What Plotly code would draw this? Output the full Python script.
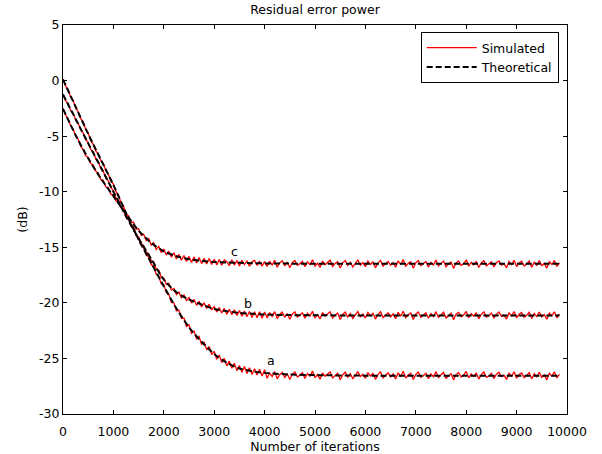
import plotly.graph_objects as go

# ---------------- data ----------------
th_iter = [0, 250, 500, 750, 1000, 1250, 1500, 1750, 2000, 2250, 2500, 2750,
           3000, 3250, 3500, 3750, 4000, 4500, 5000, 6000, 7000, 8000, 9000, 9850]

th_a = [0.1, -2.35, -4.8, -7.1, -9.4, -11.9, -14.3, -16.4, -18.5, -20.5, -22.2, -23.5,
        -24.6, -25.4, -25.9, -26.15, -26.3, -26.45, -26.5, -26.55, -26.55, -26.55, -26.55, -26.55]
th_b = [-1.25, -3.45, -5.65, -7.8, -10.0, -12.2, -14.2, -16.05, -17.9, -19.05, -19.7, -20.15,
        -20.55, -20.75, -20.9, -20.98, -21.05, -21.1, -21.12, -21.13, -21.13, -21.13, -21.13, -21.13]
th_c = [-2.55, -4.9, -7.0, -8.8, -10.4, -12.0, -13.5, -14.6, -15.37, -15.8, -16.07, -16.22,
        -16.32, -16.37, -16.4, -16.43, -16.45, -16.47, -16.48, -16.48, -16.48, -16.48, -16.48, -16.48]

sim_step = 50  # iterations between stored simulated samples

sim_a = [
    0.15, -0.48, -0.82, -1.47, -1.78, -2.44, -2.79, -3.41, -3.72, -4.38,
    -4.71, -5.39, -5.74, -6.33, -6.62, -7.19, -7.47, -8.09, -8.42, -9.06,
    -9.31, -9.98, -10.31, -10.99, -11.32, -12.01, -12.26, -12.91, -13.21, -13.92,
    -14.19, -14.83, -15.04, -15.68, -15.88, -16.55, -16.72, -17.44, -17.61, -18.31,
    -18.36, -19.08, -19.24, -19.97, -20.0, -20.71, -20.67, -21.41, -21.36, -22.12,
    -21.98, -22.74, -22.54, -23.24, -23.02, -23.76, -23.51, -24.22, -23.93, -24.66,
    -24.37, -25.07, -24.71, -25.38, -25.0, -25.67, -25.24, -25.89, -25.43, -26.1,
    -25.63, -26.24, -25.72, -26.35, -25.84, -26.44, -25.92, -26.49, -25.98, -26.58,
    -26.01,
    -26.78, -26.31, -26.62, -26.19, -26.84, -26.47, -26.25, -26.71, -26.38, -26.9,
    -26.42, -26.22, -26.66, -26.53, -26.28, -26.81, -26.36, -26.59, -26.14, -26.73,
    -26.45, -26.87, -26.3, -26.6, -26.41, -26.2, -26.76, -26.5, -26.33, -26.92,
    -26.48, -26.24, -26.69, -26.37, -26.82, -26.55, -26.18, -26.63, -26.43, -26.79,
    -26.27, -26.58, -26.35, -26.88, -26.46, -26.21, -26.74, -26.52, -26.3, -26.67,
    -26.4, -26.85, -26.29, -26.61, -26.16, -26.77, -26.49, -26.34, -26.9, -26.44,
    -26.23, -26.7, -26.56, -26.32, -26.83, -26.39, -26.65, -26.19, -26.72, -26.47,
    -26.26, -26.8, -26.54, -26.36, -26.95, -26.43, -26.28, -26.68, -26.5, -26.17,
    -26.75, -26.4, -26.62, -26.31, -26.86, -26.46, -26.22, -26.71, -26.57, -26.35,
    -26.81, -26.42, -26.25, -26.64, -26.51, -26.89, -26.33, -26.6, -26.2, -26.78,
    -26.45, -26.3, -26.73, -26.55, -26.27, -26.84, -26.38, -26.66, -26.24, -26.7,
    -26.48, -26.93, -26.34, -26.59, -26.21, -26.76, -26.44,
]

sim_b = [
    -1.2, -1.78, -2.08, -2.69, -2.93, -3.52, -3.83, -4.44, -4.71, -5.29,
    -5.58, -6.19, -6.42, -7.04, -7.31, -7.9, -8.16, -8.79, -9.02, -9.64,
    -9.9, -10.55, -10.81, -11.4, -11.66, -12.31, -12.49, -13.12, -13.28, -13.93,
    -14.07, -14.68, -14.83, -15.44, -15.57, -16.2, -16.31, -16.97, -17.06, -17.72,
    -17.76, -18.32, -18.25, -18.84, -18.7, -19.25, -19.04, -19.55, -19.28, -19.8,
    -19.52, -20.02, -19.69, -20.22, -19.86, -20.37, -20.0, -20.5, -20.12, -20.64,
    -20.33, -20.82, -20.43, -20.91, -20.5, -21.02, -20.58, -21.07, -20.63, -21.13,
    -20.7, -21.2, -20.74, -21.25, -20.77, -21.31, -20.8, -21.35, -20.79, -21.38,
    -20.82,
    -21.35, -20.88, -21.22, -20.79, -21.41, -21.05, -20.84, -21.3, -20.96, -21.47,
    -21.02, -20.81, -21.27, -21.1, -20.9, -21.38, -20.93, -21.19, -20.76, -21.33,
    -21.06, -21.44, -20.87, -21.18, -20.99, -20.8, -21.36, -21.08, -20.92, -21.49,
    -21.04, -20.83, -21.28, -20.95, -21.4, -21.14, -20.78, -21.24, -21.01, -21.37,
    -20.86, -21.16, -20.94, -21.46, -21.03, -20.8, -21.32, -21.11, -20.89, -21.26,
    -20.98, -21.42, -20.85, -21.2, -20.75, -21.34, -21.07, -20.91, -21.5, -21.0,
    -20.82, -21.29, -21.13, -20.9, -21.39, -20.97, -21.23, -20.79, -21.31, -21.05,
    -20.84, -21.37, -21.12, -20.93, -21.52, -21.0, -20.86, -21.25, -21.09, -20.77,
    -21.33, -20.98, -21.21, -20.88, -21.43, -21.04, -20.81, -21.28, -21.15, -20.92,
    -21.38, -21.01, -20.83, -21.22, -21.1, -21.46, -20.9, -21.19, -20.78, -21.35,
    -21.03, -20.87, -21.3, -21.12, -20.85, -21.41, -20.95, -21.24, -20.82, -21.27,
    -21.06, -21.48, -20.91, -21.17, -20.8, -21.34, -21.02,
]

sim_c = [
    -2.48, -3.09, -3.43, -4.04, -4.37, -4.99, -5.27, -5.9, -6.21, -6.76,
    -6.91, -7.46, -7.6, -8.16, -8.3, -8.91, -9.0, -9.57, -9.64, -10.22,
    -10.29, -10.83, -10.88, -11.44, -11.52, -12.15, -12.16, -12.76, -12.74, -13.37,
    -13.33, -13.93, -13.82, -14.39, -14.21, -14.8, -14.6, -15.19, -14.92, -15.47,
    -15.16, -15.7, -15.35, -15.88, -15.49, -16.05, -15.64, -16.17, -15.75, -16.28,
    -15.82, -16.36, -15.88, -16.41, -15.93, -16.47, -15.98, -16.5, -16.02, -16.55,
    -16.08, -16.58, -16.1, -16.62, -16.14, -16.3, -16.66, -16.12, -16.6, -16.2,
    -16.68, -16.17, -16.55, -16.23, -16.71, -16.31, -16.19, -16.64, -16.25, -16.7,
    -16.28,
    -16.72, -16.25, -16.6, -16.17, -16.79, -16.41, -16.21, -16.68, -16.33, -16.84,
    -16.39, -16.19, -16.63, -16.47, -16.26, -16.75, -16.31, -16.56, -16.12, -16.7,
    -16.43, -16.81, -16.24, -16.58, -16.36, -16.16, -16.73, -16.45, -16.29, -16.86,
    -16.4, -16.2, -16.65, -16.34, -16.77, -16.5, -16.14, -16.61, -16.38, -16.74,
    -16.23, -16.54, -16.32, -16.83, -16.42, -16.18, -16.69, -16.48, -16.27, -16.62,
    -16.37, -16.8, -16.22, -16.57, -16.11, -16.71, -16.44, -16.3, -16.88, -16.39,
    -16.2, -16.66, -16.51, -16.28, -16.78, -16.35, -16.6, -16.15, -16.67, -16.43,
    -16.24, -16.76, -16.49, -16.33, -16.9, -16.4, -16.23, -16.64, -16.46, -16.13,
    -16.7, -16.36, -16.59, -16.27, -16.82, -16.41, -16.19, -16.68, -16.53, -16.31,
    -16.77, -16.38, -16.22, -16.6, -16.47, -16.85, -16.29, -16.56, -16.17, -16.73,
    -16.42, -16.26, -16.69, -16.52, -16.24, -16.8, -16.34, -16.62, -16.2, -16.66,
    -16.45, -16.87, -16.3, -16.55, -16.18, -16.72, -16.4,
]

curve_labels = ["a", "b", "c"]
label_iter = [4130, 3670, 3400]
label_db = [-25.2, -20.1, -15.4]

x_ticks = [0, 1000, 2000, 3000, 4000, 5000, 6000, 7000, 8000, 9000, 10000]
y_ticks = [-30, -25, -20, -15, -10, -5, 0, 5]

# ---------------- figure ----------------
FONT = "DejaVu Sans, Arial, sans-serif"
FS = 12.5
fig = go.Figure()

for i, sim in enumerate([sim_a, sim_b, sim_c]):
    xs = [k * sim_step for k in range(len(sim))]
    fig.add_trace(go.Scatter(
        x=xs, y=sim, mode="lines",
        line=dict(color="#ff0000", width=1.3),
        name="Simulated", legendgroup="sim", showlegend=(i == 0),
    ))

for i, th in enumerate([th_a, th_b, th_c]):
    fig.add_trace(go.Scatter(
        x=th_iter, y=th, mode="lines",
        line=dict(color="black", width=2, dash="6px,3px", shape="spline", smoothing=0.8),
        name="Theoretical", legendgroup="th", showlegend=(i == 0),
    ))

for lab, xi, yi in zip(curve_labels, label_iter, label_db):
    fig.add_annotation(x=xi, y=yi, text=lab, showarrow=False,
                       font=dict(family=FONT, size=FS, color="black"))

axis_common = dict(
    showline=True, linecolor="black", linewidth=1, mirror="ticks",
    ticks="inside", ticklen=4, tickcolor="black", tickwidth=1,
    showgrid=False, zeroline=False, automargin=False,
    tickfont=dict(family=FONT, size=FS, color="black"),
)

fig.update_xaxes(range=[0, 10000], tickvals=x_ticks,
                 ticktext=[str(v) for v in x_ticks], ticklabelstandoff=6,
                 title=dict(text="Number of iterations", font=dict(family=FONT, size=FS), standoff=3),
                 **axis_common)
fig.update_yaxes(range=[-30, 5], tickvals=y_ticks,
                 ticktext=[str(v) for v in y_ticks],
                 title=dict(text="(dB)", font=dict(family=FONT, size=FS), standoff=8),
                 **axis_common)

fig.update_layout(
    width=602, height=454,
    margin=dict(l=63, r=35, t=25, b=40),
    paper_bgcolor="white", plot_bgcolor="white",
    font=dict(family=FONT, size=FS, color="black"),
    title=dict(text="Residual error power", x=0.5, xref="paper",
               y=1 - 10 / 454, yref="container", yanchor="middle",
               font=dict(family=FONT, size=FS, color="black")),
    legend=dict(x=(420.7 - 63) / 504, y=(414 - 32) / 389, xanchor="left", yanchor="top",
                bordercolor="black", borderwidth=1, bgcolor="white",
                font=dict(family=FONT, size=FS, color="black"),
                itemwidth=50, tracegroupgap=0),
)

fig.write_html("out.html", config={"displayModeBar": False},
               post_script="document.body.style.margin='0';")
